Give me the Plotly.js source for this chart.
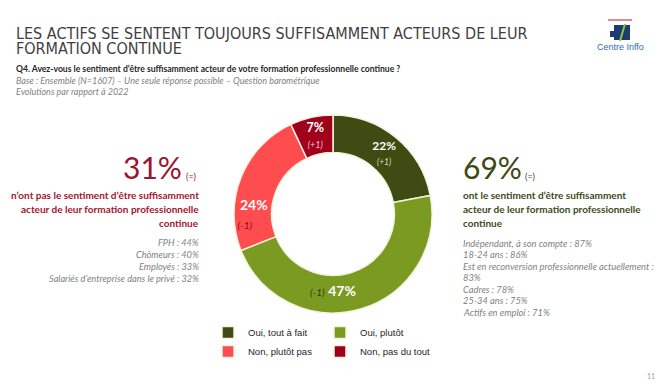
<!DOCTYPE html>
<html>
<head>
<meta charset="utf-8">
<script src="https://cdn.plot.ly/plotly-3.0.1.min.js"></script>
<style>html,body{margin:0;padding:0;background:#fff;}#chart{width:665px;height:390px;}</style>
</head>
<body>
<div id="chart"></div>
<script>
// ---- data ----
const categories = ['Oui, tout à fait', 'Oui, plutôt', 'Non, plutôt pas', 'Non, pas du tout'];
const values = [22, 47, 24, 7];
const evolutions = ['(+1)', '(-1)', '(-1)', '(+1)'];
const sliceColors = ['#3e4b13', '#7a9a21', '#ff4c4e', '#a0001b'];
const evoColors = ['#d9dfb9', '#2f3c0a', '#8a0c1c', '#f4c4c6'];

const titleLines = ['LES ACTIFS SE SENTENT TOUJOURS SUFFISAMMENT ACTEURS DE LEUR', 'FORMATION CONTINUE'];
const question = 'Q4. Avez-vous le sentiment d’être suffisamment acteur de votre formation professionnelle continue ?';
const baseLines = ['Base : Ensemble (N=1607) – Une seule réponse possible – Question barométrique', 'Evolutions par rapport à 2022'];

const noTotal = '31%';
const yesTotal = '69%';
const totalEvo = '(=)';
const noLines = ['n’ont pas le sentiment d’être suffisamment', 'acteur de leur formation professionnelle', 'continue'];
const yesLines = ['ont le sentiment d’être suffisamment', 'acteur de leur formation professionnelle', 'continue'];
const noDetails = ['FPH : 44%', 'Chômeurs : 40%', 'Employés : 33%', 'Salariés d’entreprise dans le privé : 32%'];
const yesDetails = ['Indépendant, à son compte : 87%', '18-24 ans : 86%', 'Est en reconversion professionnelle actuellement :', '83%', 'Cadres : 78%', '25-34 ans : 75%', 'Actifs en emploi : 71%'];
const pageNumber = '11';
const logoText = 'Centre Inffo';

// ---- layout helpers (pixel -> paper) ----
const W = 665, H = 390;
const M = {l: 208, r: 233, t: 110, b: 72};
const GW = W - M.l - M.r, GH = H - M.t - M.b;
const px = x => (x - M.l) / GW;
const py = y => (H - M.b - y) / GH;

const body = 'Lato, "Open Sans", sans-serif';
const narrow = '"Liberation Sans Narrow", "DejaVu Sans Condensed", Roboto, sans-serif';

// slice texts built from values/evolutions
const sliceText = values.map((v, i) => {
  const pct = '<b>' + v + '%</b>';
  const evo = '<span style="font-size:10px;color:' + evoColors[i] + '"><i>' + evolutions[i] + '</i></span>';
  if (i === 1) return evo + ' ' + pct;
  if (i === 2) return pct + '<br>' + evo + '&nbsp;&nbsp;&nbsp;&nbsp;&nbsp;';
  return pct + '<br>' + evo;
});

const trace = {
  type: 'pie',
  labels: categories,
  values: values,
  text: sliceText,
  textinfo: 'text',
  textposition: 'inside',
  insidetextorientation: 'horizontal',
  textfont: {family: body, size: 14, color: '#ffffff'},
  hole: 0.62,
  sort: false,
  direction: 'clockwise',
  rotation: 0,
  marker: {colors: sliceColors, line: {color: '#f3f3dc', width: 1.5}},
  domain: {x: [px(234), px(432)], y: [py(314), py(114)]},
  hoverinfo: 'label+value'
};

const ann = [];
function add(text, x, y, opts) {
  ann.push(Object.assign({text: text, x: px(x), y: py(y), xref: 'paper', yref: 'paper',
    showarrow: false, xanchor: 'left', yanchor: 'middle'}, opts));
}
// title
titleLines.forEach((t, i) => add(t, 14, 33 + i * 16, {font: {family: narrow, size: 16, color: '#3f3f3f'}}));
add('<b>' + question + '</b>', 14, 69, {font: {family: body, size: 8.6, color: '#262626'}});
baseLines.forEach((t, i) => add('<i>' + t + '</i>', 14, 80.5 + i * 10.5, {font: {family: body, size: 9, color: '#7f7f7f'}}));

// left block
add(noTotal, 184, 167, {xanchor: 'right', font: {family: body, size: 30, color: '#9b1530'}});
add(totalEvo, 184, 176, {font: {family: body, size: 9, color: '#9b1530'}});
noLines.forEach((t, i) => add('<b>' + t + '</b>', 201, 195 + i * 14, {xanchor: 'right', font: {family: body, size: 10, color: '#a3142f'}}));
noDetails.forEach((t, i) => add('<i>' + t + '</i>', 201, 242 + i * 12, {xanchor: 'right', font: {family: body, size: 9.2, color: '#7f7f7f'}}));

// right block
add(yesTotal, 461, 167, {font: {family: body, size: 30, color: '#3b4a12'}});
add(totalEvo, 523, 176, {font: {family: body, size: 9, color: '#3b4a12'}});
yesLines.forEach((t, i) => add('<b>' + t + '</b>', 461, 195 + i * 14, {font: {family: body, size: 10, color: '#3d4a17'}}));
yesDetails.forEach((t, i) => add('<i>' + t + '</i>', 461, 243 + i * 11.5, {font: {family: body, size: 9.3, color: '#7f7f7f'}}));

// logo text & page number
add(logoText, 620, 47, {xanchor: 'center', font: {family: '"Liberation Sans", Arial, sans-serif', size: 9, color: '#2f6db3'}});
add(pageNumber, 651, 376, {xanchor: 'center', font: {family: body, size: 7, color: '#a0a0a0'}});

const shapes = [
  {type: 'line', xref: 'paper', yref: 'paper', x0: px(608), x1: px(632), y0: py(20), y1: py(20), line: {color: '#c8102e', width: 1}},
  {type: 'rect', xref: 'paper', yref: 'paper', x0: px(614), x1: px(630), y0: py(40), y1: py(25), fillcolor: '#1f3b73', line: {width: 0}},
  {type: 'rect', xref: 'paper', yref: 'paper', x0: px(610), x1: px(616), y0: py(37), y1: py(31), fillcolor: '#1f3b73', line: {width: 0}},
  {type: 'line', xref: 'paper', yref: 'paper', x0: px(625), x1: px(620), y0: py(24), y1: py(41), line: {color: '#8dc63f', width: 2}}
];

const layout = {
  width: W, height: H,
  margin: {l: M.l, r: M.r, t: M.t, b: M.b, autoexpand: false},
  paper_bgcolor: '#ffffff', plot_bgcolor: '#ffffff',
  showlegend: true,
  legend: {
    orientation: 'h', x: 0, xanchor: 'left', y: py(318), yanchor: 'top',
    entrywidthmode: 'fraction', entrywidth: 0.5, itemwidth: 30,
    traceorder: 'normal',
    font: {family: '"Liberation Sans", Arial, sans-serif', size: 9.5, color: '#262626'}
  },
  annotations: ann,
  shapes: shapes
};

Plotly.newPlot('chart', [trace], layout, {displayModeBar: false, staticPlot: true});
</script>
</body>
</html>
